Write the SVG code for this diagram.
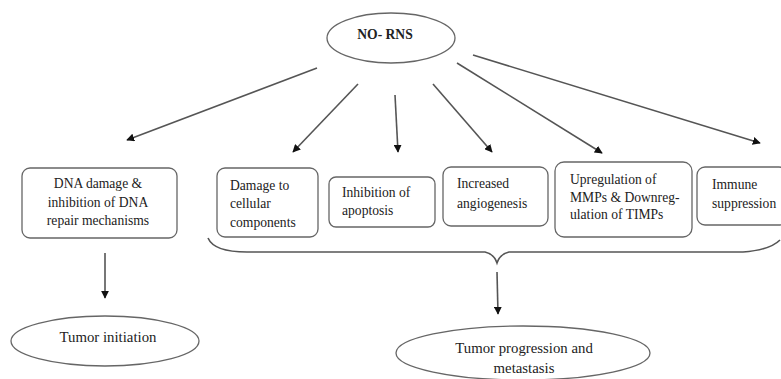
<svg xmlns="http://www.w3.org/2000/svg" width="781" height="379" viewBox="0 0 781 379">
<style>
.box{fill:#fff;stroke:#666;stroke-width:1.3}
.ell{fill:#fff;stroke:#666;stroke-width:1.3}
.t{font-family:'Liberation Serif','DejaVu Serif',serif;font-size:13.6px;fill:#222}
.e{font-size:14.8px}
.c{text-anchor:middle}
.ln{stroke:#555;stroke-width:1.6;fill:none}
</style>
<defs>
<marker id="ah" viewBox="0 0 10 10" refX="9" refY="5" markerWidth="5" markerHeight="5" orient="auto" markerUnits="strokeWidth">
<path d="M0,0 L10,5 L0,10 z" fill="#111"/>
</marker>
</defs>
<rect width="781" height="379" fill="#fff"/>
<g id="no-rns">
<ellipse class="ell" cx="391" cy="38" rx="64" ry="25"/>
<text class="t c" x="385" y="39" font-weight="bold" font-size="14.5">NO- RNS</text>
</g>
<g id="dna">
<rect class="box" x="22" y="168" width="155" height="70" rx="8"/>
<text class="t c" x="98" y="188">DNA damage &amp;</text>
<text class="t c" x="98" y="207">inhibition of DNA</text>
<text class="t c" x="98" y="225">repair mechanisms</text>
</g>
<g id="damage">
<rect class="box" x="217" y="168" width="101" height="69" rx="8"/>
<text class="t" x="230" y="190">Damage to</text>
<text class="t" x="230" y="208">cellular</text>
<text class="t" x="230" y="227">components</text>
</g>
<g id="apoptosis">
<rect class="box" x="329" y="177" width="106" height="50" rx="7"/>
<text class="t" x="342" y="197">Inhibition of</text>
<text class="t" x="342" y="215">apoptosis</text>
</g>
<g id="angiogenesis">
<rect class="box" x="443" y="167" width="105" height="59" rx="8"/>
<text class="t" x="457" y="188">Increased</text>
<text class="t" x="457" y="208">angiogenesis</text>
</g>
<g id="mmps">
<rect class="box" x="555" y="162" width="137" height="75" rx="9"/>
<text class="t" x="570" y="184">Upregulation of</text>
<text class="t" x="570" y="202">MMPs &amp; Downreg-</text>
<text class="t" x="570" y="219">ulation of TIMPs</text>
</g>
<g id="immune">
<rect class="box" x="697" y="167" width="90" height="58" rx="8"/>
<text class="t" x="712" y="189">Immune</text>
<text class="t" x="712" y="208">suppression</text>
</g>
<g id="initiation">
<ellipse class="ell" cx="105" cy="341" rx="94" ry="25"/>
<text class="t e c" x="108" y="342">Tumor initiation</text>
</g>
<g id="progression">
<ellipse class="ell" cx="523" cy="353" rx="127" ry="27"/>
<text class="t e c" x="524" y="353">Tumor progression and</text>
<text class="t e c" x="524" y="373">metastasis</text>
</g>
<g id="connectors">
<line class="ln" x1="317" y1="68" x2="127" y2="140" marker-end="url(#ah)"/>
<line class="ln" x1="358" y1="84" x2="293" y2="152" marker-end="url(#ah)"/>
<line class="ln" x1="395" y1="95" x2="398" y2="152" marker-end="url(#ah)"/>
<line class="ln" x1="433" y1="84" x2="492" y2="152" marker-end="url(#ah)"/>
<line class="ln" x1="457" y1="63" x2="602" y2="153" marker-end="url(#ah)"/>
<line class="ln" x1="473" y1="55" x2="760" y2="143" marker-end="url(#ah)"/>
<line class="ln" x1="105" y1="253" x2="105" y2="298" marker-end="url(#ah)"/>
<line class="ln" x1="497" y1="272" x2="498" y2="314" marker-end="url(#ah)"/>
<path class="ln" stroke-width="1.3" d="M208,238 Q214,252 247,252 L485,252 Q494,254 497,263 Q500,254 509,252 L743,252 Q770,250 780,240"/>
</g>
</svg>
